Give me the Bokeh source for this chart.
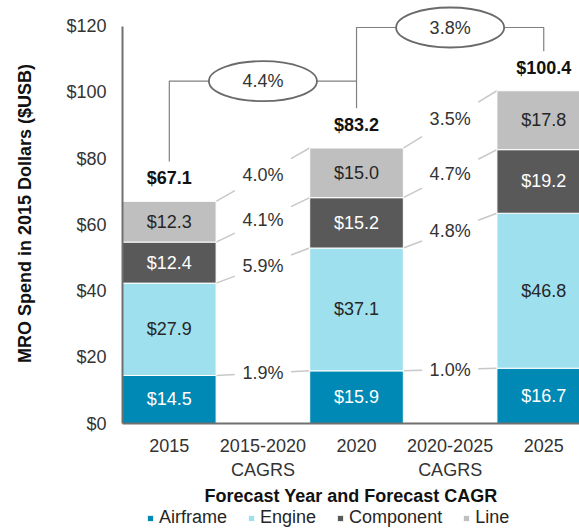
from bokeh.plotting import figure
from bokeh.layouts import column
from bokeh.models import ColumnDataSource, FixedTicker, Legend, LegendItem, Range1d
from bokeh.core.properties import value
from bokeh.embed import file_html
from bokeh.resources import INLINE

# ---------------- data ----------------
categories = ["2015", "2015-2020\nCAGRS", "2020", "2020-2025\nCAGRS", "2025"]
series = ["Airframe", "Engine", "Component", "Line"]
airframe = [14.5, 15.9, 16.7]
engine = [27.9, 37.1, 46.8]
component = [12.4, 15.2, 19.2]
line = [12.3, 15.0, 17.8]
totals = [67.1, 83.2, 100.4]
cagr_2015_2020 = [1.9, 5.9, 4.1, 4.0]
cagr_2020_2025 = [1.0, 4.8, 4.7, 3.5]
total_cagr = [4.4, 3.8]
y_ticks = [0, 20, 40, 60, 80, 100, 120]
y_tick_labels = ["$0", "$20", "$40", "$60", "$80", "$100", "$120"]

# ---------------- style ----------------
colors = ["#0089B4", "#9FE0EE", "#595959", "#BFBFBF"]
label_colors = ["#FFFFFF", "#262626", "#FFFFFF", "#262626"]
FONT = "Liberation Sans"
FS = "18px"

bar_x = [0, 2, 4]
stack = [airframe, engine, component, line]

p = figure(width=579, height=508,
           x_range=Range1d(-0.5, 4.382), y_range=Range1d(0, 126.85),
           output_backend="svg", toolbar_location=None,
           min_border_left=122, min_border_right=0,
           min_border_top=3, min_border_bottom=85)
p.outline_line_color = None
p.xgrid.visible = False
p.ygrid.visible = False
p.background_fill_color = "white"
p.border_fill_color = "white"

# axes
p.yaxis.ticker = FixedTicker(ticks=y_ticks)
p.yaxis.major_label_overrides = {t: l for t, l in zip(y_ticks, y_tick_labels)}
p.yaxis.bounds = (0, 120)
p.xaxis.ticker = FixedTicker(ticks=list(range(len(categories))))
p.xaxis.major_label_overrides = {i: c for i, c in enumerate(categories)}
for ax in (p.xaxis, p.yaxis):
    ax.major_tick_in = 0
    ax.major_tick_out = 0
    ax.minor_tick_in = 0
    ax.minor_tick_out = 0
    ax.axis_line_width = 2
    ax.axis_line_color = "#707070"
    ax.major_label_text_font = FONT
    ax.major_label_text_font_size = FS
    ax.major_label_text_color = "#333333"
    ax.axis_label_text_font = FONT
    ax.axis_label_text_font_size = FS
    ax.axis_label_text_font_style = "bold"
    ax.axis_label_text_color = "#111111"
p.yaxis.major_label_standoff = 16
p.yaxis.axis_label = "MRO Spend in 2015 Dollars ($USB)"
p.yaxis.axis_label_standoff = 28
p.xaxis.major_label_standoff = 12
p.xaxis.axis_label = "Forecast Year and Forecast CAGR"
p.xaxis.axis_label_standoff = 3

# connectors between bars (cumulative segment tops)
def tops(i):
    out, acc = [], 0.0
    for s in stack:
        acc += s[i]
        out.append(acc)
    return out

seg_x0, seg_y0, seg_x1, seg_y1 = [], [], [], []
cagr_x, cagr_y, cagr_t = [], [], []
for (a, b, ia, ib, cagrs) in [(0, 2, 0, 1, cagr_2015_2020), (2, 4, 1, 2, cagr_2020_2025)]:
    ta, tb = tops(ia), tops(ib)
    for ya, yb, c in zip(ta, tb, cagrs):
        d = yb - ya
        seg_x0 += [a + 0.5, a + 1.3]
        seg_y0 += [ya, ya + 0.8 * d]
        seg_x1 += [a + 0.7, a + 1.5]
        seg_y1 += [ya + 0.2 * d, yb]
        cagr_x.append(a + 1)
        cagr_y.append((ya + yb) / 2)
        cagr_t.append(f"{c:.1f}%")
p.segment(x0=seg_x0, y0=seg_y0, x1=seg_x1, y1=seg_y1, line_color="#C8C8C8", line_width=1.5)
p.text(x=cagr_x, y=cagr_y, text=cagr_t, text_align="center", text_baseline="middle",
       text_font=value(FONT), text_font_size=FS, text_color="#333333")

# stacked bars
src = ColumnDataSource(dict(x=bar_x, Airframe=airframe, Engine=engine, Component=component, Line=line))
renderers = p.vbar_stack(series, x="x", width=1.0, fill_color=colors, line_color="white",
                         line_width=1, source=src)

# in-bar labels
lx, ly, lt, lc = [], [], [], []
for i, x in enumerate(bar_x):
    acc = 0.0
    for k, s in enumerate(stack):
        lx.append(x)
        ly.append(acc + s[i] / 2)
        lt.append(f"${s[i]:.1f}")
        lc.append(label_colors[k])
        acc += s[i]
p.text(x=lx, y=ly, text=lt, text_color=lc, text_align="center", text_baseline="middle",
       text_font=value(FONT), text_font_size=FS)

# totals
p.text(x=bar_x, y=[t + 7 for t in totals], text=[f"${t:.1f}" for t in totals],
       text_align="center", text_baseline="middle", text_font=value(FONT),
       text_font_size=FS, text_font_style="bold", text_color="#111111")

# total CAGR brackets
lvl = [103.4, 119.6]
gap = 12
br_xs = [[bar_x[0], bar_x[0], bar_x[1]],
         [bar_x[1], bar_x[1], bar_x[2], bar_x[2]]]
br_ys = [[totals[0] + gap, lvl[0], lvl[0]],
         [totals[1] + gap, lvl[1], lvl[1], totals[2] + gap]]
p.multi_line(xs=br_xs, ys=br_ys, line_color="#808080", line_width=1.2)
p.ellipse(x=[1, 3], y=lvl, width=1.154, height=12.1, fill_color="white",
          line_color="#6A6A6A", line_width=1.8)
p.text(x=[1, 3], y=lvl, text=[f"{c:.1f}%" for c in total_cagr], text_align="center",
       text_baseline="middle", text_font=value(FONT), text_font_size=FS, text_color="#333333")

# legend strip below the chart (frame aligned with the chart frame by the column layout)
pl = figure(width=579, height=20, x_range=Range1d(0, 1), y_range=Range1d(0, 1),
            output_backend="svg", toolbar_location=None,
            min_border_left=0, min_border_right=0, min_border_top=0, min_border_bottom=0)
pl.axis.visible = False
pl.grid.visible = False
pl.outline_line_color = None
pl.border_fill_color = "white"
leg_r = [pl.vbar(x=[5], top=[1], width=0.1, fill_color=c, line_color="white", line_width=1)
         for c in colors]
legend = Legend(items=[LegendItem(label=s, renderers=[r]) for s, r in zip(series, leg_r)],
                orientation="horizontal", location=(24, 0),
                glyph_width=8, glyph_height=8, label_standoff=5, spacing=20,
                padding=0, margin=0, border_line_alpha=0, background_fill_alpha=0,
                label_text_font=FONT, label_text_font_size=FS, label_text_color="#262626",
                label_height=20)
pl.add_layout(legend, "center")

layout = column(p, pl, spacing=0)
open("out.html", "w").write(file_html(layout, INLINE))
